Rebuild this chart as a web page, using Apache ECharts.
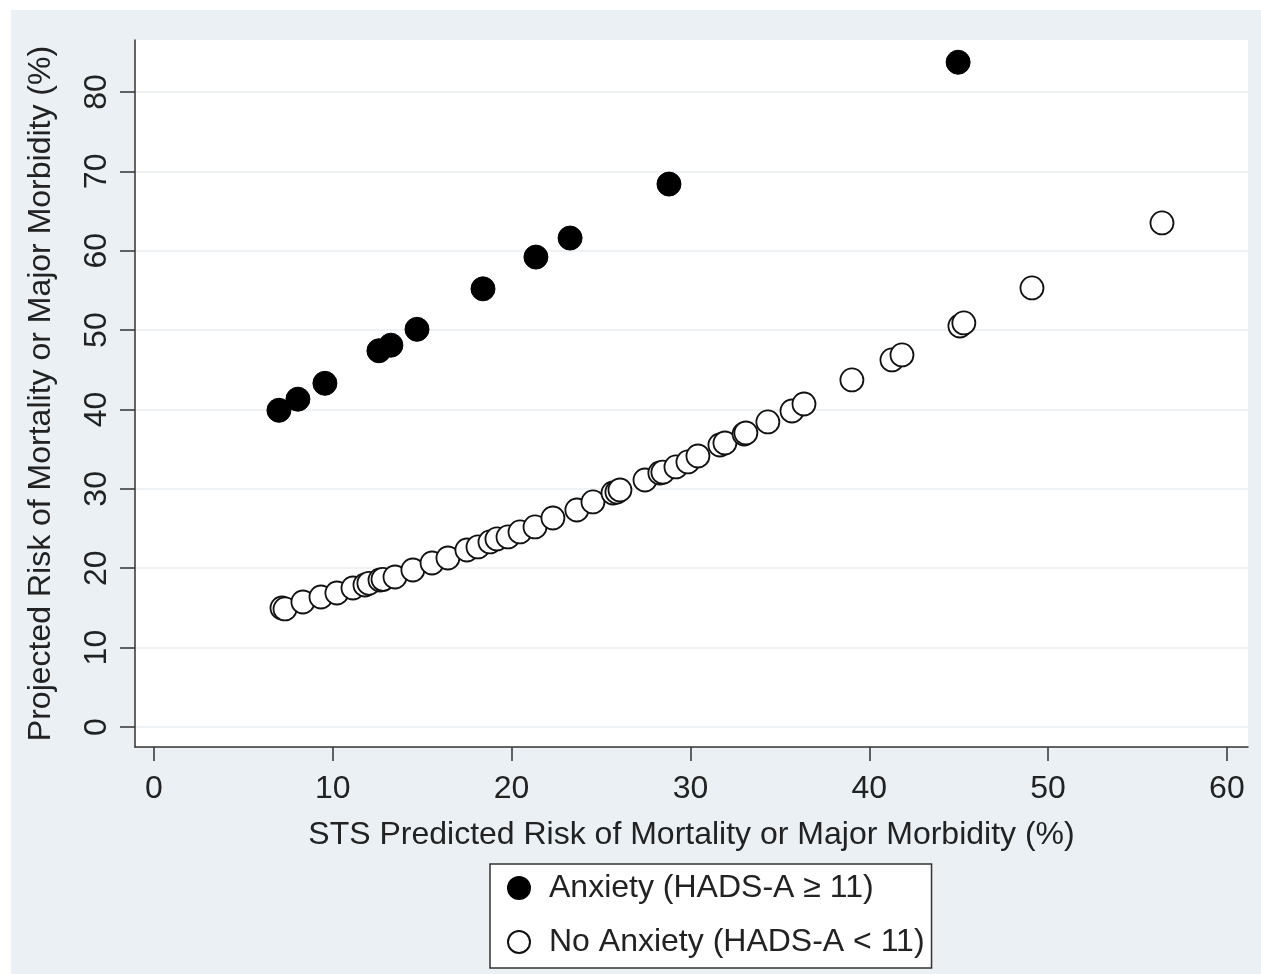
<!DOCTYPE html>
<html lang="en">
<head>
    <meta charset="UTF-8">
    <title>Scatter</title>
    <script type="text/javascript" src="https://cdn.jsdelivr.net/npm/echarts@6/dist/echarts.min.js"></script>
    <style>
        body { margin: 0; background: #ffffff; }
        #div_echars { position: absolute; left: 11px; top: 10px; width: 1250px; height: 964px; }
    </style>
</head>
<body>
    <div id="div_echars"></div>
    <script type="text/javascript">
        // tick labels
        var xTicks = [0, 10, 20, 30, 40, 50, 60];
        var yTicks = [0, 10, 20, 30, 40, 50, 60, 70, 80];

        // Anxiety (HADS-A >= 11): [STS risk, projected risk]
        var anxiety = [
            [6.99, 39.9], [8.05, 41.3], [9.56, 43.3], [12.58, 47.4], [13.25, 48.1],
            [14.71, 50.1], [18.40, 55.2], [21.36, 59.2], [23.27, 61.6], [28.80, 68.4],
            [44.97, 83.75]
        ];

        // No anxiety (HADS-A < 11)
        var noAnxiety = [
            [7.16, 14.99], [7.33, 14.87], [8.33, 15.75], [9.34, 16.38], [10.23, 16.88],
            [11.13, 17.51], [11.80, 17.89], [12.02, 18.10], [12.64, 18.52], [12.81, 18.60],
            [13.48, 18.90], [14.48, 19.78], [15.55, 20.66], [16.44, 21.29], [17.50, 22.30],
            [18.12, 22.68], [18.79, 23.31], [19.18, 23.69], [19.80, 23.94], [20.47, 24.57],
            [21.31, 25.20], [22.31, 26.33], [23.65, 27.34], [24.55, 28.35], [25.67, 29.48],
            [25.89, 29.60], [26.06, 29.86], [27.46, 31.12], [28.29, 32.00], [28.46, 32.10],
            [29.19, 32.76], [29.86, 33.39], [30.42, 34.14], [31.65, 35.53], [31.93, 35.78],
            [33.00, 36.90], [33.10, 37.04], [34.33, 38.43], [35.68, 39.81], [36.35, 40.69],
            [39.03, 43.72], [41.27, 46.24], [41.83, 46.87], [45.07, 50.52], [45.29, 50.90],
            [49.10, 55.31], [56.37, 63.50]
        ];

        var font = '"Liberation Sans", Arial, sans-serif';
        var ink = '#222222';
        var fs = 32;

        var myChart = echarts.init(document.getElementById('div_echars'));
        var option = {
            backgroundColor: '#eaf0f3',
            animation: false,
            textStyle: { fontFamily: font, color: ink },
            grid: {
                left: 124, top: 30, width: 1113, height: 707,
                show: true, backgroundColor: '#ffffff', borderWidth: 0
            },
            legend: {
                orient: 'vertical',
                left: 479, top: 854,
                padding: [7, 7, 9, 17],
                itemGap: 20,
                itemWidth: 22, itemHeight: 22,
                backgroundColor: '#ffffff',
                borderColor: '#333333', borderWidth: 1.5,
                textStyle: { fontSize: fs, lineHeight: 34, color: ink, fontFamily: font, padding: [0, 0, 0, 14] },
                data: ['Anxiety (HADS-A \u2265 11)', 'No Anxiety (HADS-A < 11)']
            },
            xAxis: {
                type: 'value',
                min: -1.06, max: 61.18,
                name: 'STS Predicted Risk of Mortality or Major Morbidity (%)',
                nameLocation: 'middle', nameGap: 72,
                nameTextStyle: { fontSize: fs, color: ink, fontFamily: font },
                axisLine: { show: true, onZero: false, lineStyle: { color: '#333333', width: 1.5 } },
                axisTick: { show: true, length: 14, customValues: xTicks, lineStyle: { color: '#333333', width: 1.5 } },
                axisLabel: { customValues: xTicks, fontSize: fs, margin: 26, color: ink, fontFamily: font },
                splitLine: { show: false }
            },
            yAxis: {
                type: 'value',
                min: -2.52, max: 86.55,
                name: 'Projected Risk of Mortality or Major Morbidity (%)',
                nameLocation: 'middle', nameGap: 78, nameRotate: 90,
                nameTextStyle: { fontSize: fs, color: ink, fontFamily: font },
                axisLine: { show: true, onZero: false, lineStyle: { color: '#333333', width: 1.5 } },
                axisTick: { show: true, length: 15, customValues: yTicks, lineStyle: { color: '#333333', width: 1.5 } },
                axisLabel: { customValues: yTicks, rotate: 90, fontSize: fs, margin: 22, color: ink, fontFamily: font },
                splitLine: { show: true, lineStyle: { color: '#e8eef0', width: 1.5 } }
            },
            series: [
                {
                    name: 'Anxiety (HADS-A \u2265 11)',
                    type: 'scatter',
                    symbol: 'circle',
                    symbolSize: 24,
                    itemStyle: { color: '#000000', borderColor: '#000000', borderWidth: 1, opacity: 1 },
                    data: anxiety
                },
                {
                    name: 'No Anxiety (HADS-A < 11)',
                    type: 'scatter',
                    symbol: 'circle',
                    symbolSize: 23,
                    itemStyle: { color: '#ffffff', borderColor: '#111111', borderWidth: 1.8, opacity: 1 },
                    data: noAnxiety
                }
            ]
        };
        myChart.setOption(option);
    </script>
</body>
</html>
